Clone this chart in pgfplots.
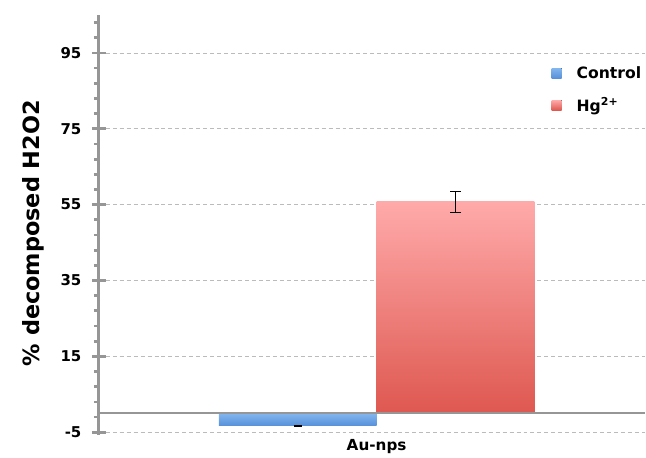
\documentclass[border=0pt]{standalone}
\usepackage{pgfplots}
\pgfplotsset{compat=1.18}
\usepackage{fontspec}
\setmainfont{DejaVu Sans}
\definecolor{axgray}{RGB}{150,150,150}
\definecolor{redtop}{RGB}{255,170,170}
\definecolor{redbot}{RGB}{222,88,80}
\definecolor{bluetop}{RGB}{130,182,238}
\definecolor{bluebot}{RGB}{88,145,218}
\begin{document}
\begin{tikzpicture}
\begin{axis}[
  scale only axis,
  width=547bp, height=418bp,
  xmin=-1.76, xmax=1.70,
  ymin=-5, ymax=105,
  axis y line*=left,
  axis x line*=bottom,
  x axis line style={draw=none},
  y axis line style={draw=none},
  xtick={0}, xticklabels={Au-nps},
  xtick style={draw=none},
  ytick={-5,15,35,55,75,95},
  minor ytick={-1,3,7,11,19,23,27,31,39,43,47,51,59,63,67,71,79,83,87,91,99,103},
  ytick align=outside,
  major tick length=14bp,
  minor tick length=5bp,
  major y tick style={axgray, line width=2.8pt, xshift=7bp},
  minor y tick style={axgray, line width=2.8pt},
  ymajorgrids,
  grid style={dash pattern=on 4pt off 3pt, axgray!65, line width=0.7pt},
  /pgf/number format/assume math mode=true,
  yticklabel style={font=\fontsize{15}{15}\selectfont\bfseries},
  xticklabel style={font=\fontsize{15.3}{15.3}\selectfont\bfseries, anchor=north, yshift=-4bp},
  ylabel={\% decomposed H2O2},
  ylabel style={font=\fontsize{22.5}{22.5}\selectfont\bfseries, at={(axis description cs:-0.146,0.477)}, anchor=north},
  legend style={at={(rel axis cs:0.829,0.882)}, anchor=north west, draw=none, fill=none,
    font=\fontsize{15.7}{15.7}\selectfont\bfseries, row sep=14bp, inner sep=0pt, nodes={inner sep=2pt}},
  legend cell align=left,
  legend image code/.code={\fill[#1] (0bp,-5bp) rectangle (10bp,5bp); \path (0bp,0bp) -- (23bp,0bp);},
  clip=false,
]
\addplot[ybar, bar width=1, bar shift=0, draw=none, top color=bluetop, bottom color=bluebot,
  error bars/.cd, y dir=both, y explicit, error bar style={black, line width=1.2pt}, error mark options={black, line width=1.6pt, mark size=4bp, rotate=90}]
  coordinates {(-0.5,-3.3) +- (0,0.1)};
\addlegendentry{Control}
\addplot[ybar, bar width=1, bar shift=0, draw=none, top color=redtop, bottom color=redbot,
  error bars/.cd, y dir=both, y explicit, error bar style={black, line width=0.9pt}, error mark options={black, line width=0.9pt, mark size=5.5bp, rotate=90}]
  coordinates {(0.5,55.7) +- (0,2.8)};
\addlegendentry{Hg\textsuperscript{2+}}
\draw[axgray, line width=2.2pt] ({rel axis cs:0,0}|-{axis cs:0,0}) -- ({rel axis cs:1,0}|-{axis cs:0,0});
\draw[axgray, line width=3pt] (rel axis cs:0,-0.006) -- (rel axis cs:0,1);
\coordinate (sw) at (rel axis cs:0,0);
\coordinate (ne) at (rel axis cs:1,1);
\end{axis}
\path (sw) ++(-99bp,-17bp) coordinate (a);
\path (ne) ++(0bp,15bp) coordinate (b);
\path[use as bounding box] (a) rectangle (b);
\end{tikzpicture}
\end{document}
